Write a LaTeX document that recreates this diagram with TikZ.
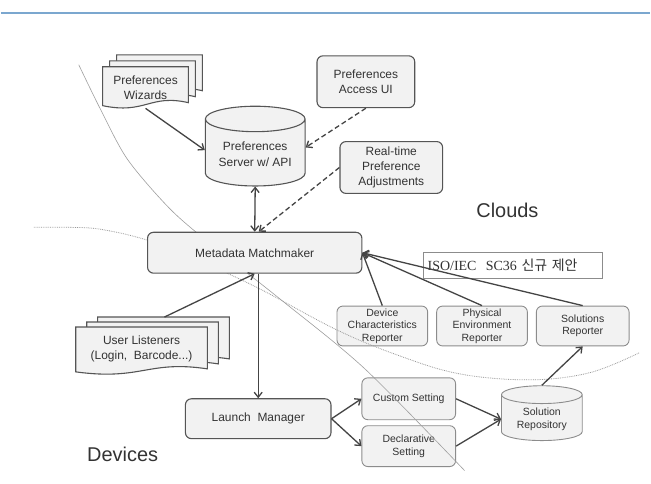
\documentclass[tikz,border=0pt]{standalone}
\usepackage{fontspec}
\setmainfont{Liberation Sans}
\newfontfamily\isoserif{Liberation Serif}
\newfontfamily\kofont{Noto Sans CJK KR}
\usetikzlibrary{shapes.geometric,arrows.meta,calc}

\definecolor{boxfill}{HTML}{F2F2F2}
\definecolor{boxline}{HTML}{555555}
\definecolor{lightline}{HTML}{8C8C8C}
\definecolor{txt}{HTML}{333333}
\definecolor{topblue}{HTML}{7BA7CF}

\tikzset{
  box/.style={draw=boxline, fill=boxfill, rounded corners=6pt, line width=1.1pt,
    align=center, text=txt, inner sep=2pt, font=\fontsize{12}{15}\selectfont},
  smallbox/.style={box, draw=lightline, line width=0.9pt, font=\fontsize{10.5}{12.5}\selectfont},
  db/.style={cylinder, shape border rotate=90, aspect=0.33, draw=boxline, fill=boxfill,
    line width=1.1pt, align=center, text=txt, inner sep=2pt, font=\fontsize{12}{16}\selectfont},
  smalldb/.style={db, draw=lightline, line width=0.9pt, font=\fontsize{10.5}{13}\selectfont},
  sheet/.style={draw=boxline, fill=boxfill, line width=1.1pt},
  doctext/.style={align=center, text=txt, inner sep=0pt, font=\fontsize{12}{15}\selectfont},
  isobox/.style={draw=lightline, line width=0.8pt, fill=white, text=txt, inner sep=4pt,
    font=\fontsize{14}{16}\selectfont},
  bigtext/.style={text=txt, font=\fontsize{20}{24}\selectfont},
  link/.style={draw=boxline!80!black, line width=1.3pt, -{Straight Barb[length=5pt,width=8pt]}},
  twolink/.style={link, {Straight Barb[length=5pt,width=8pt]}-{Straight Barb[length=5pt,width=8pt]}},
  dlink/.style={link, dash pattern=on 5pt off 3pt},
  edgeline/.style={draw=gray!75, line width=0.6pt},
  cloudline/.style={draw=gray!80, line width=0.8pt, densely dotted},
}

% one sheet of a document stack, top left (#1,#2), bottom right (#3,#4)
\newcommand\docsheet[4]{%
  \filldraw[sheet] (#1,#2) -- (#3,#2) -- (#3,#4)
    .. controls ({#3-0.45*(#3-#1)},{#4-9}) and ({#1+0.5*(#3-#1)},{#4+12}) .. (#1,{#4+3}) -- cycle;}

\begin{document}
\begin{tikzpicture}[x=1pt,y=-1pt]
  \fill[white] (0,0) rectangle (651,485);
  \draw[topblue, line width=2pt] (0,13) -- (651,13);

  % cloud side
  \docsheet{116}{55}{202}{91}
  \docsheet{109}{61}{195}{97}
  \docsheet{102}{67}{188}{103}
  \node[doctext, minimum width=86, minimum height=41] (wiz) at (145,88) {Preferences\\Wizards};
  \node[db, minimum width=100, minimum height=80] (srv) at (255,155) {Preferences\\Server w/ API};
  \node[box, minimum width=98, minimum height=52] (aui) at (366,82) {Preferences\\Access UI};
  \node[box, minimum width=103, minimum height=52] (rt) at (391.5,168) {Real-time\\Preference\\Adjustments};
  \node[bigtext] (clouds) at (508,211) {Clouds};
  \node[isobox, minimum width=179, minimum height=26, text width=171, align=left] (iso) at (513.5,266)
    {\isoserif ISO/IEC\ \ SC36 {\kofont 신규 제안}};

  % reporters
  \node[smallbox, minimum width=91, minimum height=40] (dcr) at (382.5,327) {Device\\Characteristics\\Reporter};
  \node[smallbox, minimum width=91, minimum height=40] (per) at (482.5,327) {Physical\\Environment\\Reporter};
  \node[smallbox, minimum width=93, minimum height=40] (sol) at (583.5,327) {Solutions\\Reporter};

  % device side
  \docsheet{97}{318}{229}{360}
  \docsheet{86}{323}{218}{365}
  \docsheet{75}{328}{207}{370}
  \node[doctext, minimum width=132, minimum height=44] (usr) at (141,350) {User Listeners\\(Login,\ \ Barcode...)};
  \coordinate (usrtop) at (164,318);
  \node[box, minimum width=146, minimum height=40] (lm) at (258,420) {Launch\ \ Manager};
  \node[smallbox, minimum width=94, minimum height=42] (cs) at (409,400) {Custom Setting};
  \node[smallbox, minimum width=94, minimum height=41] (ds) at (409,447.5) {Declarative\\Setting};
  \node[smalldb, minimum width=81, minimum height=55] (repo) at (542.5,420.5) {Solution\\Repository};
  \node[bigtext] (devices) at (122,456) {Devices};

  % borders between clouds and devices
  \draw[cloudline] plot[smooth, tension=0.6] coordinates {(33,228) (67,228) (100,230) (147,241) (200,262)
    (260,290) (337,331) (400,357) (460,375) (530,381) (590,374) (640,354)};
  \draw[edgeline] plot[smooth] coordinates {(78,65) (100,110) (127,160) (170,210) (213,247)
    (280,300) (365,370) (465,472)};

  \node[box, minimum width=215, minimum height=41] (mm) at (254.5,253.5) {Metadata Matchmaker};

  % connectors
  \draw[link] (wiz.south) -- (srv.175);
  \draw[dlink] (aui.south) -- (srv.8);
  \draw[dlink] (rt.west) -- ($(mm.north)+(4,0)$);
  \draw[twolink] (srv.270) -- (mm.north);
  \draw[link] (dcr.north) -- (mm.east);
  \draw[link] (per.north) -- (mm.east);
  \draw[link] (sol.north) -- (mm.east);
  \draw[link] (usrtop) -- (mm.south);
  \draw[link] (mm.south -| lm.north) -- (lm.north);
  \draw[link] (lm.east) -- (cs.west);
  \draw[link] (lm.east) -- (ds.west);
  \draw[link] (cs.east) -- (repo.180);
  \draw[link] (ds.east) -- (repo.180);
  \draw[link] (repo.90) -- (sol.south);
\end{tikzpicture}
\end{document}
